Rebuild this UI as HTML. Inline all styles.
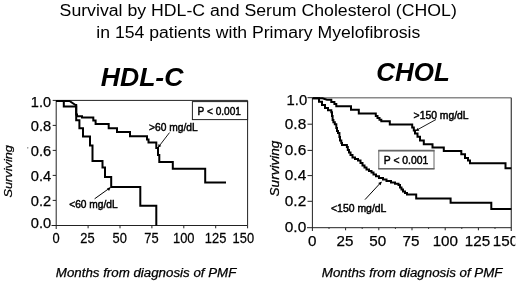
<!DOCTYPE html>
<html><head><meta charset="utf-8"><title>Survival by HDL-C and Serum Cholesterol</title>
<style>
html,body{margin:0;padding:0;background:#fff;}
body{width:520px;height:288px;overflow:hidden;}
svg{display:block;font-family:"Liberation Sans",Arial,sans-serif;fill:#000;}
.tk text{stroke:#000;stroke-width:0.25;}
.lb{stroke:#000;stroke-width:0.45;}
.it{stroke:#000;stroke-width:0.25;}
.ax{stroke:#222;stroke-width:1;fill:none;}
.cv{stroke:#000;stroke-width:2;fill:none;stroke-linejoin:miter;}
</style></head><body>
<svg width="520" height="288" viewBox="0 0 520 288">
<rect width="520" height="288" fill="#fff"/>
<!-- Title -->
<text x="59.6" y="16.3" font-size="15.6" textLength="397.2" lengthAdjust="spacingAndGlyphs">Survival by HDL-C and Serum Cholesterol (CHOL)</text>
<text x="96.3" y="37.5" font-size="15.6" textLength="324" lengthAdjust="spacingAndGlyphs">in 154 patients with Primary Myelofibrosis</text>
<text x="100.8" y="85.5" font-size="26" font-weight="bold" font-style="italic" textLength="82.6" lengthAdjust="spacingAndGlyphs">HDL-C</text>
<text x="376.2" y="80.5" font-size="26" font-weight="bold" font-style="italic" textLength="73.6" lengthAdjust="spacingAndGlyphs">CHOL</text>

<!-- LEFT CHART -->
<g id="left">
<path class="ax" d="M56.2,100.4 H247.6 V225.5 H51.5 M56.2,100.4 V229"/>
<path class="ax" d="M52.7,100.4H56 M52.7,125.4H56 M52.7,150.4H56 M52.7,175.4H56 M52.7,200.4H56 M88.1,225.5v2.8 M120,225.5v2.8 M151.9,225.5v2.8 M183.8,225.5v2.8 M215.7,225.5v2.8 M247.6,225.5v2.8"/>
<rect class="ax" x="192.4" y="101.6" width="55.2" height="18"/>
<text x="197.6" y="114.7" class="lb" font-size="10.6" textLength="43.4" lengthAdjust="spacingAndGlyphs">P &lt; 0.001</text>
<path class="cv" d="M56,101 H69.5 L75.5,105 H76.2 V114.5 H77 V116.3 H82 V117.5 H93.3 V120.5 H95.6 V123.9 H108.7 V128.3 H117 V132 H130 V136.2 H147 V139.5 H148.5 V142.5 H156.3 V148 H158 V155 H159.3 V161.9 H172.8 V168.8 H205.2 V182.4 H226"/>
<path class="cv" d="M56,101 H63.8 V106.5 H76.2 V120.2 H79.4 V128.3 H83 V136.4 H90 V145.6 H92.5 V161 H102.5 V167.5 H105 V177 H111.2 V187 H140.3 V205.8 H156.3 V225.5"/>
<text x="149" y="131.3" class="lb" font-size="10.3" textLength="48.6" lengthAdjust="spacingAndGlyphs">&gt;60 mg/dL</text>
<path d="M169.5,132.6 L158.6,146.8" stroke="#000" stroke-width="0.9"/><path d="M157.9,147.8 l0.7,-3.9 l2.7,2.1z"/>
<text x="69.2" y="207.8" class="lb" font-size="10.3" textLength="48.4" lengthAdjust="spacingAndGlyphs">&lt;60 mg/dL</text>
<path d="M94.6,198.8 L110,187.8" stroke="#000" stroke-width="1"/><path d="M110.8,187.2 l-3.8,1 l2,2.8z"/>
<g font-size="14.8" class="tk">
<text x="30.8" y="107" textLength="20.2" lengthAdjust="spacingAndGlyphs">1.0</text>
<text x="30.8" y="130.8" textLength="20.4" lengthAdjust="spacingAndGlyphs">0.8</text>
<text x="30.8" y="155.8" textLength="20.4" lengthAdjust="spacingAndGlyphs">0.6</text>
<text x="30.8" y="180.8" textLength="20.4" lengthAdjust="spacingAndGlyphs">0.4</text>
<text x="30.8" y="205.8" textLength="20.4" lengthAdjust="spacingAndGlyphs">0.2</text>
<text x="30.8" y="228.4" textLength="20.4" lengthAdjust="spacingAndGlyphs">0.0</text>
<text transform="translate(56.1,242.9) scale(0.87,1)" text-anchor="middle">0</text>
<text transform="translate(87.5,242.9) scale(0.87,1)" text-anchor="middle">25</text>
<text transform="translate(119.7,242.9) scale(0.87,1)" text-anchor="middle">50</text>
<text transform="translate(151.4,242.9) scale(0.87,1)" text-anchor="middle">75</text>
<text transform="translate(183.75,242.9) scale(0.87,1)" text-anchor="middle">100</text>
<text transform="translate(215.6,242.9) scale(0.87,1)" text-anchor="middle">125</text>
<text transform="translate(243.3,242.9) scale(0.87,1)" text-anchor="middle">150</text>
</g>
<text class="it" transform="translate(12.4,197.5) rotate(-90)" font-size="11.8" font-style="italic" textLength="52.4" lengthAdjust="spacingAndGlyphs">Surviving</text>
<text x="55.8" y="277" class="it" font-size="12" font-style="italic" textLength="180.5" lengthAdjust="spacingAndGlyphs">Months from diagnosis of PMF</text>
</g>

<circle cx="27.8" cy="147.8" r="0.6" fill="#333"/>
<!-- RIGHT CHART -->
<g id="right">
<path d="M312.4,97.7 H511.3" stroke="#8a8a8a" stroke-width="1.4" fill="none"/>
<path d="M511.3,97.7 V231" stroke="#4a4a4a" stroke-width="1.3" fill="none"/>
<path class="ax" d="M312.4,97.7 V231 M307,227.7 H511.3"/>
<path class="ax" d="M307.5,97.7H312 M307.5,124.2H312 M307.5,150.4H312 M307.5,175.6H312 M307.5,201.3H312 M345.6,227.7v2.6 M378.8,227.7v2.6 M412,227.7v2.6 M445.2,227.7v2.6 M478.4,227.7v2.6 M329,227.7v1.2 M362.2,227.7v1.2 M395.4,227.7v1.2 M428.6,227.7v1.2 M461.8,227.7v1.2 M495,227.7v1.2"/>
<rect x="378.8" y="150.6" width="55.2" height="18.1" fill="#fff" stroke="#666" stroke-width="1"/><path d="M378.3,150.6H434.5M378.3,168.7H434.5" stroke="#666" stroke-width="1.6"/>
<text x="383.8" y="164.2" class="lb" font-size="10.6" textLength="44.5" lengthAdjust="spacingAndGlyphs">P &lt; 0.001</text>
<path class="cv" d="M312.5,98.2 H322.5 L327,99.8 H331.3 V102 H334.4 V104 H336.3 V106.2 H351 V109.8 H358.8 V113.5 H375.8 V116 H377.5 V118 H379.5 V119.7 H381.3 V121.3 H389.8 V124.6 H412.2 V127.5 H413.8 V130.5 H415 V133.5 H417.5 V136.8 H420 V140.5 H423.8 V144.2 H432.5 V147.5 H443.8 V151 H461.3 V154.3 H465 V158 H468 V160.6 H470 V163.2 H505.5 V168.2 H511.3"/>
<path class="cv" d="M312.5,98.2 H319 V101.8 H322 V105 H325 V108 H328 V110.2 H331.3 V112.3 H332 V116 H332.6 V120 H333.4 V122.3 H334.8 V124.3 H336.3 V128 H337 V131 H338 V133 H339.4 V137 H340 V140.5 H341.3 V143 H342 V144.9 H346.9 V147 H347.8 V150 H349 V152.5 H350.5 V155 H352.5 V157.5 H355 V159 H358 V160.6 H360.5 V163 H362.5 V165.5 H364.5 V167.5 H366.5 V169.5 H369 V171 H371.5 V172.5 H373.5 V174.5 H376 V176.3 H379 V178 H383 V179.5 H386.5 V181 H391 V182.5 H395 V183.8 H398.5 V185 H400 V187.5 H401.5 V189.5 H403 V191.5 H405 V193 H407 V194.6 H416.2 V198.6 H450.6 V202.8 H491.3 V209 H511.3"/>
<text x="413.6" y="119" class="lb" font-size="10.3" textLength="55" lengthAdjust="spacingAndGlyphs">&gt;150 mg/dL</text>
<path d="M436,119.5 L416,130.5" stroke="#000" stroke-width="0.9"/><path d="M415.3,130.9 l2.4,-3 l1.6,2.9z"/>
<text x="331" y="212.3" class="lb" font-size="10.3" textLength="55.4" lengthAdjust="spacingAndGlyphs">&lt;150 mg/dL</text>
<path d="M365,199.6 L381.3,182" stroke="#000" stroke-width="1"/><path d="M381.8,181.4 l-3.6,1.7 l2.4,2.2z"/>
<g font-size="15.2" class="tk">
<text x="286.6" y="105" textLength="20.6" lengthAdjust="spacingAndGlyphs">1.0</text>
<text x="284.8" y="129" textLength="21.4" lengthAdjust="spacingAndGlyphs">0.8</text>
<text x="284.8" y="155.4" textLength="21.4" lengthAdjust="spacingAndGlyphs">0.6</text>
<text x="284.8" y="179.8" textLength="21.4" lengthAdjust="spacingAndGlyphs">0.4</text>
<text x="284.8" y="206" textLength="21.4" lengthAdjust="spacingAndGlyphs">0.2</text>
<text x="284.8" y="231.8" textLength="21.4" lengthAdjust="spacingAndGlyphs">0.0</text>
<text x="312.2" y="246.4" text-anchor="middle">0</text>
<text x="345" y="246.4" text-anchor="middle">25</text>
<text x="377.8" y="246.4" text-anchor="middle">50</text>
<text x="410.9" y="246.4" text-anchor="middle">75</text>
<text x="445.3" y="246.4" text-anchor="middle">100</text>
<text x="477.5" y="246.4" text-anchor="middle">125</text>
</g>
<svg x="490" y="230" width="25.3" height="20" viewBox="490 230 25.3 20" class="tk"><text x="492.8" y="246.4" font-size="15.2">150</text></svg>
<text class="it" transform="translate(278.6,196.4) rotate(-90)" font-size="12.6" font-style="italic" textLength="55.6" lengthAdjust="spacingAndGlyphs">Surviving</text>
<text x="321.8" y="277" class="it" font-size="12" font-style="italic" textLength="180.7" lengthAdjust="spacingAndGlyphs">Months from diagnosis of PMF</text>
</g>
</svg>
</body></html>
